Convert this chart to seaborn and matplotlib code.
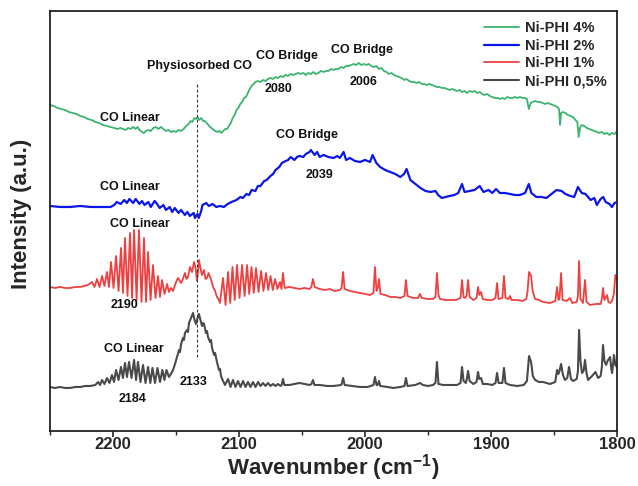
import numpy as np
import pandas as pd
import matplotlib
matplotlib.use("Agg")
import matplotlib.pyplot as plt
from matplotlib.ticker import MultipleLocator
import seaborn as sns

# DRIFTS spectra of CO adsorbed on Ni-PHI samples, (wavenumber cm-1, intensity a.u.)
ni_phi_4 = [
    (2250, 326), (2247, 325), (2244, 323), (2241, 322), (2238, 321), (2235, 319), (2232, 318),
    (2229, 317), (2226, 315), (2223, 314), (2220, 312), (2217, 311), (2214, 309), (2211, 308),
    (2208, 306), (2205, 305), (2202, 304), (2199, 303), (2196.5, 302), (2194, 303), (2192, 302),
    (2190, 301), (2188, 303), (2186, 302), (2184, 304), (2182, 302), (2180.5, 304), (2179, 301),
    (2177, 299), (2175.5, 298), (2174, 300), (2172, 301), (2170, 300), (2168, 303), (2166, 304),
    (2164, 302), (2162, 304), (2160, 302), (2158, 300), (2156, 301), (2154, 299), (2152, 300),
    (2150, 299), (2148, 301), (2146, 300), (2144, 302), (2142, 305), (2140, 307), (2138.5, 310),
    (2137, 309), (2135.5, 313), (2134, 312), (2133, 314), (2131.5, 311), (2130, 313), (2128.5, 310),
    (2127, 310), (2125, 307), (2123, 304), (2121, 302), (2119, 300), (2117, 299), (2115.5, 300),
    (2114, 298), (2112.5, 300), (2111, 302), (2109.5, 302), (2108, 305), (2106.5, 308), (2105, 313),
    (2103.5, 316), (2102, 321), (2100.5, 323), (2099, 327), (2097.5, 329), (2096, 333), (2094.5, 334),
    (2093, 338), (2091.5, 342), (2090, 345), (2088.5, 347), (2087, 349), (2085, 350), (2083, 349),
    (2081, 351), (2079, 350), (2077, 352), (2075, 353), (2073, 352), (2071, 354), (2069, 353),
    (2067, 355), (2065, 354), (2063, 356), (2061, 355), (2059, 357), (2057, 356), (2055, 357),
    (2053, 358), (2051, 357), (2049, 358), (2047, 356), (2045, 358), (2043, 357), (2041, 359),
    (2039, 357), (2037, 358), (2035, 360), (2033, 359), (2031, 360), (2029, 360), (2027, 362),
    (2025, 361), (2023, 362), (2021, 362), (2019, 364), (2017, 363), (2015, 365), (2013, 365),
    (2011, 366), (2009, 367), (2007, 366), (2005, 368), (2003, 366), (2001, 367), (1999, 366),
    (1997, 367), (1995, 365), (1993, 364), (1991, 365), (1989, 362), (1987, 363), (1985, 360),
    (1983, 359), (1981, 357), (1979, 358), (1977, 356), (1975, 355), (1973, 354), (1971, 353),
    (1969, 351), (1967, 352), (1965, 350), (1963, 349), (1961, 349), (1959, 348), (1957, 349),
    (1955, 347), (1953, 347), (1951, 346), (1949, 347), (1947, 346), (1945, 345), (1943, 344),
    (1941, 344), (1939, 343), (1937, 343), (1935, 342), (1933, 341), (1931, 342), (1929, 341),
    (1927, 340), (1925, 341), (1923, 339), (1921, 340), (1919, 338), (1917, 340), (1915, 339),
    (1913, 340), (1911, 338), (1909, 339), (1907, 337), (1905, 336), (1903, 337), (1901, 335),
    (1899, 334), (1897, 333), (1895, 333), (1893, 332), (1891, 333), (1889, 332), (1887, 334),
    (1885, 333), (1883, 333), (1881, 334), (1879, 333), (1877, 334), (1875, 333), (1873, 333),
    (1871.5, 332), (1870, 322), (1868.5, 328), (1867, 329), (1865, 330), (1863, 329), (1861, 329),
    (1859, 328), (1857, 327), (1855, 328), (1853, 327), (1851, 326), (1849, 325), (1847.5, 324),
    (1846, 322), (1845.2, 306), (1844.4, 318), (1843, 319), (1841, 318), (1839, 316), (1837, 315),
    (1835, 314), (1833, 311), (1831.5, 309), (1830.4, 294), (1829.2, 304), (1828, 306), (1826, 305),
    (1824, 303), (1822, 302), (1820, 301), (1818, 300), (1816, 299), (1814, 298), (1812, 299),
    (1810, 297), (1808, 298), (1806, 296), (1804, 298), (1802, 297), (1800, 300),
]

ni_phi_2 = [
    (2250, 225), (2242, 224), (2234, 224), (2226, 225), (2218, 224), (2210, 224), (2202, 224),
    (2199, 226), (2197, 229), (2194, 227), (2191, 231), (2189, 228), (2187, 232), (2184, 228),
    (2182, 232), (2179, 227), (2177, 230), (2175, 226), (2172, 229), (2170, 224), (2167, 230),
    (2165, 227), (2163, 223), (2160, 226), (2158, 221), (2155, 224), (2153, 219), (2151, 223),
    (2148, 218), (2146, 221), (2143, 216), (2141, 219), (2139, 215), (2136, 218), (2135, 213),
    (2133, 217), (2132, 213), (2130, 220), (2129, 226), (2126, 228), (2124, 225), (2121, 227),
    (2118, 224), (2115, 225), (2112, 224), (2109, 227), (2106, 229), (2102, 231), (2099, 234),
    (2097, 233), (2094, 237), (2092, 236), (2090, 241), (2087, 240), (2085, 245), (2083, 245),
    (2080, 250), (2078, 251), (2075, 255), (2073, 257), (2071, 261), (2068, 264), (2066, 268),
    (2063, 270), (2061, 271), (2059, 274), (2056, 271), (2054, 274), (2052, 275), (2049, 274),
    (2047, 277), (2044, 279), (2043, 281), (2040, 276), (2038, 279), (2036, 274), (2033, 276),
    (2029, 274), (2025, 273), (2022, 275), (2020, 273), (2017, 279), (2015, 271), (2012, 273),
    (2008, 270), (2004, 269), (2000, 271), (1996, 269), (1994, 276), (1991, 268), (1988, 264),
    (1984, 261), (1980, 259), (1976, 257), (1972, 254), (1969, 257), (1967, 262), (1964, 251),
    (1960, 247), (1956, 243), (1952, 240), (1948, 239), (1944, 240), (1942, 236), (1939, 233),
    (1936, 234), (1933, 235), (1929, 236), (1926, 238), (1923, 247), (1921, 239), (1917, 240),
    (1913, 241), (1909, 245), (1906, 239), (1902, 241), (1899, 238), (1896, 242), (1893, 238),
    (1889, 238), (1885, 237), (1881, 236), (1877, 236), (1873, 238), (1870, 247), (1868, 238),
    (1864, 234), (1860, 234), (1856, 233), (1852, 237), (1848, 241), (1844, 240), (1841, 237),
    (1837, 235), (1834, 234), (1831, 244), (1828, 238), (1825, 237), (1821, 231), (1818, 233),
    (1816, 226), (1813, 232), (1811, 234), (1809, 229), (1806, 227), (1804, 224), (1802, 228),
    (1800, 229),
]

ni_phi_1 = [
    (2250, 144), (2246, 143), (2242, 144), (2238, 143), (2234, 143), (2230, 144), (2226, 144),
    (2223, 145), (2220, 146),
    (2216.7, 149), (2214.7, 144), (2212.7, 152), (2210.7, 144), (2208.7, 155), (2206.8, 145),
    (2204.8, 159), (2203.2, 144), (2201.6, 169), (2199.6, 143), (2197.6, 175), (2195.6, 140),
    (2193.7, 183), (2192.1, 138), (2190.5, 193), (2188.5, 135), (2186.5, 198), (2184.9, 133),
    (2183.3, 201), (2181.3, 131), (2179.4, 201), (2177.4, 129), (2175.4, 193), (2173.8, 129),
    (2172.2, 179), (2170.2, 131), (2168.3, 166), (2166.3, 133), (2164.3, 155), (2162.7, 134),
    (2161.1, 151), (2159.1, 137), (2157.1, 147), (2155.6, 139), (2154.0, 143), (2152.4, 140),
    (2150.8, 146), (2149.6, 150), (2148.4, 153), (2146.0, 148), (2144.5, 152), (2142.9, 158),
    (2141.7, 152), (2140.5, 154), (2138.9, 164), (2137.3, 159), (2135.7, 169), (2134.5, 163),
    (2133.3, 150), (2132.5, 160), (2131.8, 171), (2130.6, 163), (2129.4, 156), (2127.8, 161),
    (2126.6, 152), (2125.4, 153), (2124.2, 158), (2123.0, 154), (2121.8, 150), (2120.6, 144),
    (2119.0, 140), (2117.5, 134), (2116.3, 132), (2115.1, 128),
    (2112.7, 153), (2110.7, 126), (2108.7, 159), (2107.0, 128), (2105.2, 164), (2103.4, 131),
    (2101.6, 166), (2099.6, 133), (2097.6, 166), (2095.6, 135), (2093.6, 166), (2091.9, 137),
    (2090.1, 164), (2088.3, 138), (2086.5, 163), (2084.5, 139), (2082.5, 160), (2080.6, 140),
    (2078.6, 158), (2076.8, 141), (2075.0, 155), (2073.2, 141), (2071.4, 152), (2069.5, 142),
    (2067.5, 149), (2066.3, 142), (2065.1, 158), (2063.8, 143),
    (2060, 144), (2056, 143), (2052, 142), (2048, 143), (2044, 142), (2042.6, 144), (2041.3, 152),
    (2040, 144), (2036, 142), (2032, 141), (2028, 142), (2024, 140), (2020, 141), (2018.6, 143),
    (2017.4, 159), (2016.2, 142), (2012, 140), (2008, 139), (2004, 138), (2000, 137), (1996, 136),
    (1993.3, 138), (1992.1, 164), (1990.9, 140), (1989.9, 143), (1988.9, 152), (1987.7, 137),
    (1984, 136), (1980, 134), (1976, 134), (1972, 133), (1968.7, 135), (1967.5, 151), (1966.3, 135),
    (1962, 133), (1958, 133), (1956.4, 137), (1955, 133), (1950, 132), (1946, 132), (1944.1, 134),
    (1942.9, 158), (1941.7, 136), (1940.5, 132), (1936, 131), (1932, 131), (1928, 131),
    (1924.2, 133), (1923.0, 151), (1921.8, 134), (1920.6, 133), (1919.4, 135), (1918.2, 151),
    (1917, 134), (1914, 131), (1911.5, 133), (1910.3, 144), (1909.3, 136), (1907.9, 139),
    (1906.5, 132), (1903, 131), (1899, 131), (1896.4, 133), (1895.2, 148), (1894, 132), (1891, 133),
    (1889.7, 155), (1888.5, 133), (1886, 132), (1884.9, 135), (1883.7, 131), (1879, 131),
    (1875, 130), (1872, 132), (1871, 140), (1869.8, 159), (1868.2, 155), (1867, 140), (1865, 132),
    (1862, 131), (1858.7, 129), (1853.2, 128), (1849, 130), (1847.6, 144), (1846.4, 131),
    (1845.6, 133), (1844.4, 158), (1843.2, 131), (1840, 130), (1837.3, 133), (1835.5, 128),
    (1832, 129), (1831, 135), (1830.1, 170), (1829, 132), (1827, 128), (1825.4, 151), (1824.2, 129),
    (1821.4, 126), (1817, 127), (1813, 127), (1812, 132), (1811.1, 143), (1810, 131), (1807.9, 136),
    (1806.8, 129), (1805.5, 128), (1804, 130), (1802.5, 137), (1801.3, 156), (1800, 151),
]

ni_phi_05 = [
    (2250, 44), (2246, 43), (2242, 44), (2238, 43), (2234, 43), (2230, 44), (2226, 44), (2222, 45),
    (2218, 45), (2214, 46), (2211.9, 49), (2210.3, 46), (2208.7, 51), (2206.8, 47),
    (2204.8, 53), (2202.8, 48), (2200.8, 56), (2199.2, 49), (2197.6, 61), (2195.6, 51),
    (2193.7, 64), (2192.1, 53), (2190.5, 68), (2188.9, 54), (2187.3, 69), (2185.3, 53),
    (2183.3, 71), (2181.7, 51), (2180.2, 69), (2178.2, 49), (2176.2, 66), (2174.2, 48),
    (2172.2, 64), (2170.4, 48), (2168.7, 63), (2166.7, 48), (2164.7, 63), (2162.7, 49),
    (2160.8, 61), (2159.2, 51), (2157.6, 61), (2155.6, 54),
    (2154.0, 57), (2152.4, 61), (2150.8, 67), (2149.2, 74), (2147.6, 81), (2146.8, 79),
    (2146.0, 87), (2144.5, 93), (2143.7, 91), (2142.9, 98), (2141.3, 101), (2140.5, 99),
    (2139.7, 108), (2138.1, 113), (2136.5, 118), (2135.3, 111), (2134.1, 107), (2132.9, 113),
    (2131.8, 117), (2130.6, 111), (2129.4, 105), (2128.6, 108), (2127.8, 107), (2126.2, 98),
    (2125.4, 100), (2124.6, 94), (2123.0, 89), (2122.2, 91), (2121.4, 83), (2119.8, 76),
    (2119.0, 78), (2117.5, 69), (2115.9, 61), (2115.1, 62), (2114.3, 55), (2112.7, 50),
    (2111.1, 46),
    (2108.7, 52), (2106.7, 44), (2104.8, 51), (2102.8, 44), (2100.8, 50), (2098.8, 44),
    (2096.8, 50), (2094.8, 44), (2092.9, 49), (2090.9, 44), (2088.9, 49), (2086.9, 44),
    (2084.9, 49), (2082.9, 45), (2081.0, 48), (2079.0, 45), (2077.0, 48), (2075.0, 45),
    (2073.0, 47), (2071.0, 45), (2069.1, 47), (2067.1, 45),
    (2066.2, 46), (2065.1, 52), (2064, 46), (2060, 46), (2056, 47), (2052, 48), (2048, 47),
    (2044, 46), (2042.5, 47), (2041.3, 51), (2040.1, 46), (2036, 46), (2030, 45), (2025, 45),
    (2019, 46), (2018.5, 47), (2017.4, 53), (2016.2, 46), (2010, 45), (2004, 44), (1998, 44),
    (1993.3, 46), (1992.1, 54), (1990.9, 46), (1989.9, 46), (1988.9, 50), (1987.8, 45),
    (1982, 44), (1977.5, 43), (1972, 44), (1968.7, 45), (1967.5, 53), (1966.3, 45), (1960, 46),
    (1956.4, 48), (1954, 46), (1950, 45), (1946, 46), (1944.1, 48), (1942.9, 69), (1941.7, 47),
    (1938, 46), (1932, 46), (1927, 46), (1924.2, 48), (1923.0, 64), (1921.8, 50), (1920, 48),
    (1919.2, 52), (1918.2, 60), (1917, 50), (1914, 47), (1911.5, 49), (1910.3, 59), (1909.3, 52),
    (1907.9, 53), (1906.5, 47), (1903, 47), (1899, 46), (1896.4, 48), (1895.2, 58), (1894, 48),
    (1891, 48), (1889.7, 63), (1888.5, 48), (1885, 46), (1879, 45), (1874, 46), (1871.5, 50),
    (1869.8, 75), (1868.2, 69), (1866.8, 55), (1865, 51), (1862, 49), (1858.7, 49), (1853.2, 47),
    (1849, 49), (1847.6, 61), (1846.5, 57), (1845.6, 60), (1844.4, 67), (1842.9, 56),
    (1841.3, 51), (1839.5, 53), (1838.1, 64), (1836.5, 52), (1834.9, 50), (1832, 52), (1831, 60),
    (1830.1, 101), (1829, 70), (1827.8, 58), (1826.5, 60), (1825.4, 71), (1824.2, 58),
    (1823.0, 51), (1819.8, 55), (1817.1, 59), (1815.0, 53), (1813, 55), (1812, 64), (1811.1, 86),
    (1810, 70), (1808.7, 66), (1807.5, 70), (1805.5, 74), (1804.5, 62), (1803.9, 58),
    (1802.4, 76), (1801.3, 66), (1800, 64),
]

samples = ["Ni-PHI 4%", "Ni-PHI 2%", "Ni-PHI 1%", "Ni-PHI 0,5%"]
spectra = [ni_phi_4, ni_phi_2, ni_phi_1, ni_phi_05]
colors = ["#3cb371", "#0b16e8", "#ee4040", "#4a4a4a"]
widths = [1.3, 1.6, 1.3, 1.5]

x_ticks = [2200, 2100, 2000, 1900, 1800]
physisorbed_co = 2133
physisorbed_span = (74, 349)

# band assignments: (text, wavenumber, intensity)
annotations = [
    ("Physiosorbed CO", 2131.0, 365),
    ("CO Bridge", 2061.6, 375),
    ("2080", 2068.3, 342),
    ("CO Bridge", 2002.4, 381),
    ("2006", 2000.8, 349),
    ("CO Linear", 2186.5, 313),
    ("CO Bridge", 2046.0, 296),
    ("2039", 2036.5, 256),
    ("CO Linear", 2186.5, 244),
    ("CO Linear", 2178.6, 207),
    ("2190", 2190.5, 126),
    ("CO Linear", 2183.3, 82),
    ("2133", 2135.7, 49),
    ("2184", 2184.6, 32),
]

sns.set_style("white")
plt.rcParams["font.family"] = ["Liberation Sans", "DejaVu Sans"]
plt.rcParams["font.weight"] = "bold"
plt.rcParams["mathtext.fontset"] = "custom"
plt.rcParams["mathtext.rm"] = "Liberation Sans:bold"
plt.rcParams["mathtext.it"] = "Liberation Sans:bold"
plt.rcParams["mathtext.bf"] = "Liberation Sans:bold"

fig = plt.figure(figsize=(6.38, 4.86), dpi=100)
ax = fig.add_axes([0.0784, 0.1132, 0.8887, 0.8642])

for name, data, col, lw in zip(samples, spectra, colors, widths):
    arr = np.asarray(data, dtype=float)
    df = pd.DataFrame({"wavenumber": arr[:, 0], "intensity": arr[:, 1]})
    sns.lineplot(data=df, x="wavenumber", y="intensity", color=col, lw=lw,
                 estimator=None, sort=False, label=name, ax=ax)

ax.plot([physisorbed_co, physisorbed_co], physisorbed_span, ls=(0, (2.5, 2)),
        color="#333333", lw=0.8)

for text, wx, wy in annotations:
    ax.text(wx, wy, text, ha="center", va="center", fontsize=9, fontweight="bold",
            color="#111111")

ax.set_xlim(2250, 1800)
ax.set_ylim(0, 420)
ax.set_xticks(x_ticks)
ax.set_xticklabels([str(t) for t in x_ticks])
ax.xaxis.set_minor_locator(MultipleLocator(50))
ax.set_yticks([])
ax.tick_params(axis="x", which="major", direction="out", length=4, width=1.2,
               labelsize=12, pad=0.5, bottom=True)
ax.tick_params(axis="x", which="minor", direction="out", length=3, width=1.0, bottom=True)
for sp in ax.spines.values():
    sp.set_color("#222222")
    sp.set_linewidth(1.3)

ax.set_xlabel("Wavenumber (cm$^{-1}$)", fontsize=16, fontweight="bold", labelpad=0)
ax.set_ylabel("Intensity (a.u.)", fontsize=16, fontweight="bold")
ax.yaxis.set_label_coords(-0.032, 0.517)

ax.legend(loc="upper right", frameon=False, fontsize=10.5, handlelength=2.4,
          handletextpad=0.4, labelspacing=0.25, borderaxespad=0.3)

fig.savefig("out.png", dpi=100)
